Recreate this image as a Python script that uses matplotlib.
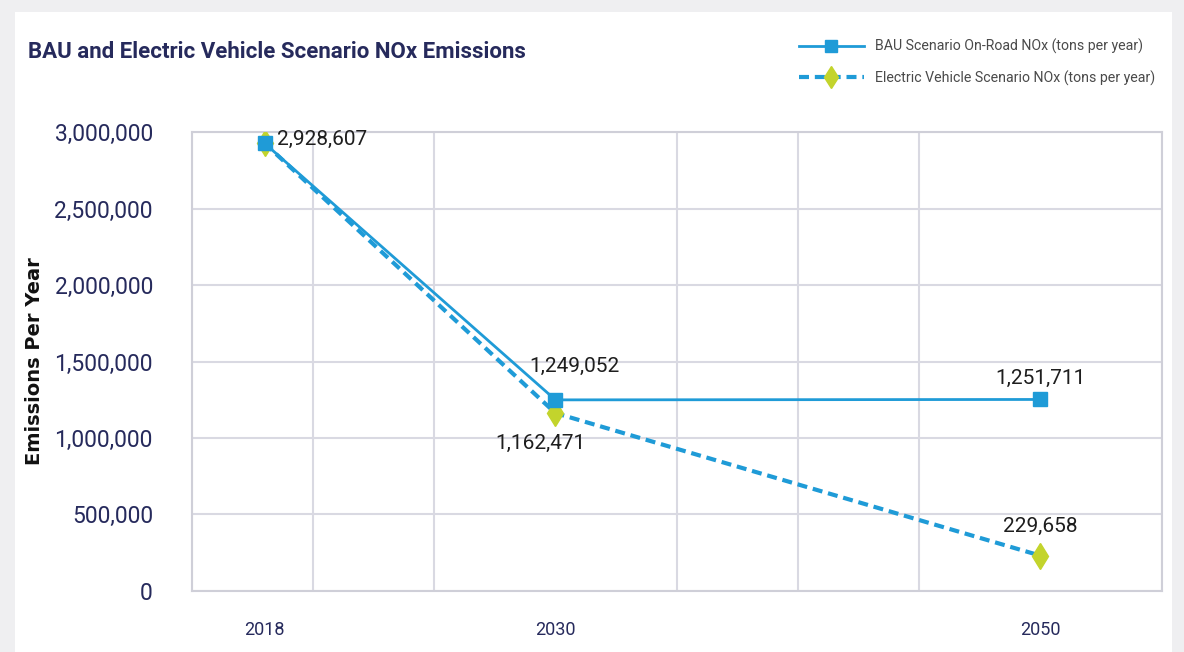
import matplotlib.pyplot as plt
import matplotlib.ticker as mticker
from matplotlib import font_manager
from matplotlib.patches import Rectangle

years = [2018, 2030, 2050]
bau_nox = [2928607, 1249052, 1251711]
ev_nox = [2928607, 1162471, 229658]
bau_label = 'BAU Scenario On-Road NOx (tons per year)'
ev_label = 'Electric Vehicle Scenario NOx (tons per year)'

# pick a narrow face if the machine has one
installed = {f.name for f in font_manager.fontManager.ttflist}
narrow = 'Liberation Sans Narrow' if 'Liberation Sans Narrow' in installed else 'Roboto'
plt.rcParams['font.family'] = [narrow, 'DejaVu Sans']

navy = '#262a5c'
blue = '#1f9bd7'
lime = '#c3d42c'
grid_col = '#d9d9e2'

fig = plt.figure(figsize=(11.84, 6.52), dpi=100)
fig.patch.set_facecolor('#efeff1')
fig.patches.append(Rectangle((15 / 1184, 0), 1157 / 1184, 1 - 12 / 652,
                             transform=fig.transFigure, facecolor='white',
                             edgecolor='none', zorder=-10))

ax = fig.add_axes([0.162, 0.094, 0.819, 0.703])

# EV first so the BAU square sits on top at 2018
ax.plot(years, ev_nox, color=blue, lw=3, linestyle=(0, (2.4, 1.4)),
        marker='d', markersize=13, markerfacecolor=lime, markeredgecolor=lime,
        label=ev_label, zorder=3)
ax.plot(years, bau_nox, color=blue, lw=2, marker='s', markersize=9.5,
        markerfacecolor=blue, markeredgecolor=blue, label=bau_label, zorder=4)

# value labels
lab_kw = dict(textcoords='offset points', fontsize=15, color='#1e1e1e', va='center')
ax.annotate(f'{bau_nox[0]:,}', (years[0], bau_nox[0]), xytext=(9, 3), ha='left', **lab_kw)
ax.annotate(f'{bau_nox[1]:,}', (years[1], bau_nox[1]), xytext=(14, 24), ha='center', **lab_kw)
ax.annotate(f'{ev_nox[1]:,}', (years[1], ev_nox[1]), xytext=(-11, -22), ha='center', **lab_kw)
ax.annotate(f'{bau_nox[2]:,}', (years[2], bau_nox[2]), xytext=(0, 15), ha='center', **lab_kw)
ax.annotate(f'{ev_nox[2]:,}', (years[2], ev_nox[2]), xytext=(0, 21), ha='center', **lab_kw)

ax.set_xlim(2015, 2055)
ax.set_ylim(0, 3000000)
ax.set_xticks(years)
ax.set_xticks(range(2015, 2056, 5), minor=True)
ax.set_yticks(range(0, 3000001, 500000))
ax.yaxis.set_major_formatter(mticker.FuncFormatter(lambda v, p: f'{int(v):,}'))

ax.grid(False)
ax.grid(which='minor', axis='x', color=grid_col, lw=1.5, zorder=0)
ax.grid(which='major', axis='y', color=grid_col, lw=1.5, zorder=0)
ax.tick_params(axis='y', length=0, pad=28, labelsize=16.5, labelcolor=navy)
ax.tick_params(axis='x', which='both', length=0, pad=22, labelsize=13, labelcolor=navy)
for s in ax.spines.values():
    s.set_color('#cfcfd8')
    s.set_linewidth(1.5)

ax.set_ylabel('Emissions Per Year', fontsize=14, fontweight='bold', color='#111111',
              family='DejaVu Sans')
ax.yaxis.set_label_coords(-(192 - 44) / (0.819 * 1184), 0.5)

fig.text(28 / 1184, 1 - 52 / 652, 'BAU and Electric Vehicle Scenario NOx Emissions',
         fontsize=16, fontweight='bold', color=navy, va='center')

handles, labels = ax.get_legend_handles_labels()
fig.legend(handles[::-1], labels[::-1], loc='upper right',
           bbox_to_anchor=(1168 / 1184, 1 - 26 / 652), frameon=False,
           fontsize=10.2, labelcolor='#4a4a4a', handlelength=4.6, handletextpad=0.8,
           labelspacing=1.15, markerscale=0.9)

fig.savefig('out.png', dpi=100)
